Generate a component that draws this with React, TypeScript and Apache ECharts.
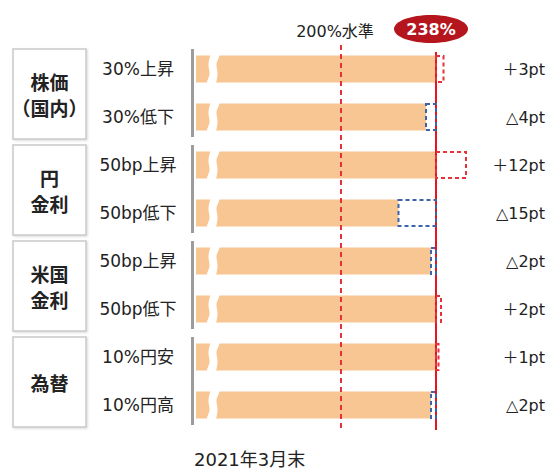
import React, { useEffect, useRef } from "react";
import * as echarts from "echarts";

const categories = ["30%上昇", "30%低下", "50bp上昇", "50bp低下", "50bp上昇", "50bp低下", "10%円安", "10%円高"];
const ratios = [238, 234, 238, 223, 236, 238, 238, 236];
const deltas = [3, -4, 12, -15, -2, 2, 1, -2];
const deltaLabels = ["＋3pt", "△4pt", "＋12pt", "△15pt", "△2pt", "＋2pt", "＋1pt", "△2pt"];
const groupNames = ["株価\n（国内）", "円\n金利", "米国\n金利", "為替"];
const groupStart = [0, 2, 4, 6];
const groupEnd = [1, 3, 5, 7];
const baseRatio = 238;
const baseLabel = "238%";
const levelRatio = 200;
const levelLabel = "200%水準";
const dateLabel = "2021年3月末";
const axisMin = 142;
const axisMax = 262;

const FONT = '"DejaVu Sans", "Noto Sans CJK JP", sans-serif';
const CJK = '"Noto Sans CJK JP", sans-serif';

export default function App() {
  const ref = useRef<HTMLDivElement>(null);
  useEffect(() => {
    if (!ref.current) return;
    const chart = echarts.init(ref.current, null, { renderer: "svg" });
    const option: any = {
      animation: false,
      backgroundColor: "#ffffff",
      title: {
        text: dateLabel,
        left: 194,
        top: 450,
        padding: 0,
        textStyle: { fontFamily: FONT, fontSize: 18, fontWeight: "normal", color: "#222" },
      },
      grid: { left: 196, right: 52, top: 45, bottom: 41 },
      xAxis: {
        type: "value",
        min: axisMin,
        max: axisMax,
        show: false,
      },
      yAxis: [
        {
          type: "category",
          inverse: true,
          data: categories,
          axisLine: { show: false },
          axisTick: { show: false },
          axisLabel: { align: "center", margin: 58, fontSize: 17, color: "#222", fontFamily: FONT },
        },
        {
          type: "category",
          inverse: true,
          position: "right",
          data: deltaLabels,
          axisLine: { show: false },
          axisTick: { show: false },
          axisLabel: { align: "right", margin: 49, fontSize: 16, color: "#222", fontFamily: FONT },
        },
      ],
      series: [
        {
          type: "bar",
          data: ratios,
          barWidth: 27,
          itemStyle: { color: "#f8c692" },
          yAxisIndex: 0,
          z: 2,
        },
        {
          type: "custom",
          name: "breaks",
          coordinateSystem: "cartesian2d",
          z: 5,
          data: categories.map((_, i) => [axisMin, i]),
          encode: { x: 0, y: 1 },
          renderItem: (params: any, api: any) => {
            const p = api.coord([api.value(0), api.value(1)]);
            const x0 = p[0];
            const cy = p[1];
            return {
              type: "polygon",
              z2: 10,
              shape: {
                points: [
                  [x0 + 15.5, cy - 15],
                  [x0 + 12.5, cy - 5],
                  [x0 + 13.5, cy + 5],
                  [x0 + 11, cy + 15],
                  [x0 + 19, cy + 15],
                  [x0 + 21.5, cy + 5],
                  [x0 + 20.5, cy - 5],
                  [x0 + 23.5, cy - 15],
                ],
                smooth: 0.3,
              },
              style: { fill: "#ffffff" },
            };
          },
        },
        {
          type: "custom",
          name: "groups",
          coordinateSystem: "cartesian2d",
          z: 5,
          data: groupNames.map((_, i) => [axisMin, groupStart[i], groupEnd[i], i]),
          encode: { x: 0, y: 1 },
          renderItem: (params: any, api: any) => {
            const a = api.coord([axisMin, api.value(1)]);
            const b = api.coord([axisMin, api.value(2)]);
            const gi = api.value(3);
            const x0 = a[0];
            const top = a[1] - 20;
            const bottom = b[1] + 22;
            const bx = x0 - 183;
            const bw = 73;
            return {
              type: "group",
              children: [
                {
                  type: "rect",
                  shape: { x: bx, y: top, width: bw, height: bottom - top },
                  style: {
                    fill: "#ffffff",
                    stroke: "#c9c9c9",
                    lineWidth: 1.5,
                    shadowBlur: 2,
                    shadowColor: "rgba(0,0,0,0.15)",
                    shadowOffsetX: 1,
                    shadowOffsetY: 1,
                  },
                },
                {
                  type: "rect",
                  shape: { x: x0 - 5, y: a[1] - 20, width: 3, height: b[1] + 20 - (a[1] - 20) },
                  style: { fill: "#9c9c9c" },
                },
                {
                  type: "text",
                  style: {
                    text: groupNames[gi],
                    x: bx + bw / 2,
                    y: (top + bottom) / 2,
                    align: "center",
                    verticalAlign: "middle",
                    textAlign: "center",
                    textVerticalAlign: "middle",
                    fontSize: 19,
                    fontWeight: "bold",
                    lineHeight: 26,
                    fontFamily: CJK,
                    fill: "#222",
                  },
                },
              ],
            };
          },
        },
        {
          type: "custom",
          name: "refs",
          coordinateSystem: "cartesian2d",
          z: 6,
          data: [
            [levelRatio, 0, 0],
            [baseRatio, 0, 1],
          ],
          encode: { x: 0, y: 1 },
          renderItem: (params: any, api: any) => {
            const x = api.coord([api.value(0), 0])[0];
            const cs = params.coordSys;
            const kind = api.value(2);
            if (kind === 0) {
              return {
                type: "group",
                children: [
                  {
                    type: "line",
                    shape: { x1: x, y1: cs.y, x2: x, y2: cs.y + cs.height },
                    style: { stroke: "#e8303a", lineWidth: 2, lineDash: [5, 4] },
                  },
                  {
                    type: "text",
                    style: {
                      text: levelLabel,
                      x: x - 6,
                      y: cs.y - 14,
                      align: "center",
                      verticalAlign: "middle",
                      textAlign: "center",
                      textVerticalAlign: "middle",
                      fontSize: 16,
                      fontFamily: FONT,
                      fill: "#222",
                    },
                  },
                ],
              };
            }
            return {
              type: "group",
              children: [
                {
                  type: "line",
                  shape: { x1: x, y1: cs.y + 7, x2: x, y2: cs.y + cs.height + 1 },
                  style: { stroke: "#e8141e", lineWidth: 2 },
                },
                {
                  type: "ellipse",
                  shape: { cx: x - 5, cy: cs.y - 16, rx: 37, ry: 14 },
                  style: { fill: "#b5161e" },
                },
                {
                  type: "text",
                  style: {
                    text: baseLabel,
                    x: x - 5,
                    y: cs.y - 16,
                    align: "center",
                    verticalAlign: "middle",
                    textAlign: "center",
                    textVerticalAlign: "middle",
                    fontSize: 16,
                    fontWeight: "bold",
                    fontFamily: FONT,
                    fill: "#ffffff",
                  },
                },
              ],
            };
          },
        },
        {
          type: "custom",
          name: "changes",
          coordinateSystem: "cartesian2d",
          z: 7,
          data: deltas.map((d, i) => [baseRatio, baseRatio + d, i, d]),
          encode: { x: [0, 1], y: 2 },
          renderItem: (params: any, api: any) => {
            const a = api.coord([api.value(0), api.value(2)]);
            const b = api.coord([api.value(1), api.value(2)]);
            const d = api.value(3);
            const x1 = Math.min(a[0], b[0]);
            const w = Math.abs(b[0] - a[0]);
            return {
              type: "rect",
              shape: { x: x1, y: a[1] - 13, width: w, height: 26 },
              style: {
                fill: null,
                stroke: d > 0 ? "#e8303a" : "#3a64ae",
                lineWidth: 2,
                lineDash: [4, 3],
              },
            };
          },
        },
      ],
    };
    chart.setOption(option);
    return () => chart.dispose();
  }, []);
  return (
    <div
      ref={ref}
      style={{ position: "fixed", left: 0, top: 0, width: 548, height: 470, background: "#fff" }}
    />
  );
}
